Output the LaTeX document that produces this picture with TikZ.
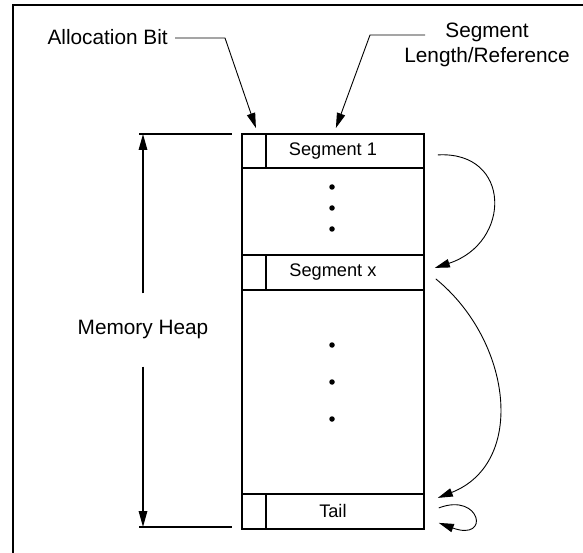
\documentclass[tikz,border=0pt]{standalone}
\usepackage{fontspec}
\setmainfont{Liberation Sans}
\usetikzlibrary{arrows.meta,calc}
\begin{document}
\begin{tikzpicture}[x=1pt,y=-1pt,
  cell/.style={draw,line width=1.8pt,minimum width=182pt,anchor=north west,inner sep=0pt,font=\fontsize{18.2}{20}\selectfont},
  bitcell/.style={draw,line width=1.8pt,minimum width=24pt,anchor=north west,inner sep=0pt},
  lbl/.style={inner sep=0pt,font=\fontsize{20.8}{25.5}\selectfont,align=center},
  tip/.style={-{Triangle[length=15pt,width=8.5pt]}},
  conn/.style={tip,line width=0.9pt},
  dotmark/.style={circle,fill,inner sep=0pt,minimum size=5.5pt},
  heavy/.style={line width=1.8pt}]
\useasboundingbox (0,0) rectangle (583,553);
% border
\draw[line width=2pt] (12.5,553) -- (12.5,5.5) -- (583,5.5);
% heap outline
\node[cell,minimum height=395pt] (heap) at (241,133) {};
\node[cell,minimum height=34pt] (s1) at (241,133) {Segment 1};
\node[bitcell,minimum height=34pt] (b1) at (241,133) {};
\node[cell,minimum height=35pt] (sx) at (241,254) {Segment x};
\node[bitcell,minimum height=35pt] (bx) at (241,254) {};
\node[cell,minimum height=35pt] (tail) at (241,493) {Tail};
\node[bitcell,minimum height=35pt] (bt) at (241,493) {};
% dots
\node[dotmark] (d1) at (332,187) {};
\node[dotmark] (d2) at (332,208) {};
\node[dotmark] (d3) at (332,229) {};
\node[dotmark] (d4) at (332,345) {};
\node[dotmark] (d5) at (332,382) {};
\node[dotmark] (d6) at (332,419) {};
% labels
\node[lbl,anchor=east] (alloc) at (168,37.5) {Allocation Bit};
\node[lbl] (seglen) at (487,45) {Segment\\Length/Reference};
\coordinate (ak) at (225,38);
\coordinate (sk) at (370,35);
\coordinate (se) at (425,35);
\draw[tip,line width=0.9pt] ([xshift=7pt]alloc.east |- ak) -- (ak) -- ([xshift=2pt,yshift=5pt]b1.north);
\draw[tip,line width=0.9pt] (se) -- (sk) -- ([xshift=3pt,yshift=5pt]s1.north);
% memory heap dimension
\node[lbl,minimum height=73pt] (mh) at (143,330) {Memory Heap};
\coordinate (hl1) at (139,134);
\coordinate (hr1) at (232,134);
\coordinate (hl2) at (139,527);
\coordinate (hr2) at (232,527);
\draw[heavy] (hl1) -- (hr1);
\draw[heavy] (hl2) -- (hr2);
\draw[line width=1.5pt,-{Triangle[length=16pt,width=8.5pt]}] (mh.north) -- (mh.north |- hl1);
\draw[line width=1.5pt,-{Triangle[length=16pt,width=8.5pt]}] (mh.south) -- (mh.south |- hl2);
% links
\draw[conn] ([xshift=13pt,yshift=-4pt]s1.east) .. controls +(74,-4) and +(77,-25) .. ([xshift=10pt,yshift=4.5pt]sx.east);
\draw[conn] ([xshift=11pt,yshift=-6.5pt]sx.east) .. controls +(76,62) and +(89,-35) .. ([xshift=13pt,yshift=13.5pt]tail.east);
\draw[conn] ([xshift=14pt,yshift=3.5pt]tail.east) .. controls +(42,-16) and +(52,19) .. ([xshift=14pt,yshift=-11.5pt]tail.east);
\end{tikzpicture}
\end{document}
